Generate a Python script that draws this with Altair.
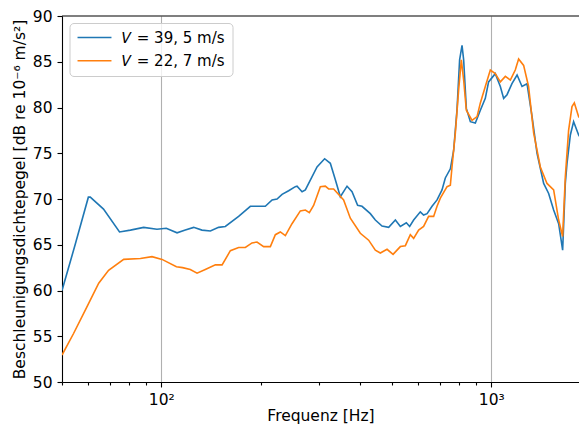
import altair as alt
import pandas as pd

label_a = "𝑉 = 39, 5 m/s"
label_b = "𝑉 = 22, 7 m/s"

freq_a = [50, 54.9, 60.1, 60.9, 66.8, 74.7, 80.6, 88.4, 97.0, 103.5, 111.6, 118.2, 125.3, 132.8,
          140.8, 149.1, 156.3, 171.5, 186.1, 206.6, 216.6, 224.2, 232.2, 243.1, 254.7, 257.8,
          267.0, 273.2, 296.4, 312.5, 325.2, 336.8, 348.7, 365.4, 378.4, 393.4, 405.7, 429.9,
          445.2, 466.5, 488.6, 512.0, 530.1, 552.7, 565.6, 581.6, 609.3, 623.5, 638.8, 661.3,
          684.8, 709.0, 725.5, 751.4, 768.9, 787.3, 801.6, 815.2, 824.5, 840.1, 864.0, 894.5,
          926.4, 959.0, 981.3, 1028, 1065, 1090, 1116, 1155, 1197, 1239, 1283, 1329, 1376,
          1441, 1492, 1545, 1600, 1645, 1676, 1696, 1736, 1776, 1839, 1884, 1950, 2000]
level_a = [60.0, 65.1, 70.2, 70.2, 68.9, 66.4, 66.6, 66.9, 66.7, 66.8, 66.3, 66.6, 66.9, 66.6,
           66.5, 66.9, 67.0, 68.1, 69.2, 69.2, 69.9, 70.0, 70.5, 70.9, 71.35, 71.4,
           70.8, 71.0, 73.5, 74.4, 73.9, 72.1, 70.25, 71.4, 70.8, 69.3, 69.2, 68.4,
           67.7, 67.05, 66.9, 67.7, 67.0, 67.4, 67.0, 67.7, 68.6, 68.25, 68.4, 69.2,
           69.9, 71.0, 72.3, 73.3, 75.3, 79.8, 85.2, 86.8, 85.2, 79.9, 78.45, 78.3,
           79.7, 81.0, 82.8, 83.7, 82.3, 81.0, 81.4, 82.6, 83.55, 82.3, 82.6, 79.0, 75.0,
           71.7, 70.6, 68.8, 67.3, 64.4, 71.7, 73.9, 77.0, 78.45, 77.0, 76.45, 76.1, 76.0]

freq_b = [50, 54.2, 59.5, 64.6, 69.2, 76.9, 86.4, 93.7, 100.5, 111.1, 116, 122.4, 128.3, 135.9,
          145.8, 152.8, 161.9, 171.5, 179.7, 188.3, 195.0, 204.2, 214.0, 221.6, 229.4, 237.6,
          248.9, 263.8, 273.2, 280.9, 289.4, 303.3, 314.0, 321.4, 332.8, 356.8, 373.9, 400.9,
          424.9, 445.2, 461.0, 483.1, 503.8, 530.1, 548.9, 568.3, 581.6, 602.2, 623.5, 645.7,
          668.7, 684.8, 700.7, 734.3, 751.4, 760.2, 778.0, 796.1, 811.3, 824.5, 840.1, 874.2,
          905.3, 926.4, 959.0, 993.1, 1028, 1065, 1103, 1142, 1182, 1210, 1253, 1297, 1344,
          1408, 1475, 1545, 1600, 1645, 1676, 1715, 1756, 1785, 1839, 1905, 1950, 2000]
level_b = [52.95, 55.3, 58.2, 60.8, 62.2, 63.4, 63.5, 63.7, 63.4, 62.6, 62.5, 62.3, 61.9, 62.3,
           62.8, 62.8, 64.35, 64.7, 64.7, 65.2, 65.3, 64.8, 64.8, 66.1, 66.4, 66.0,
           67.3, 68.7, 68.8, 68.5, 69.3, 71.35, 71.4, 71.1, 71.1, 69.9, 67.9, 66.25,
           65.5, 64.4, 64.1, 64.5, 63.95, 64.8, 64.9, 66.1, 65.7, 66.6, 67.0, 68.1,
           68.1, 69.2, 70.1, 71.35, 71.5, 73.5, 77.2, 81.9, 85.2, 83.0, 79.7, 78.6,
           79.0, 80.5, 82.3, 84.1, 83.7, 82.8, 83.4, 83.0, 84.1, 85.3, 84.6, 82.3, 77.2,
           73.5, 71.7, 71.0, 67.7, 65.9, 72.4, 77.5, 80.1, 80.5, 79.0, 78.45, 77.7, 77.5]

x_domain = [50, 1844]
x_ticks = [50, 60, 70, 80, 90, 100, 200, 300, 400, 500, 600, 700, 800, 900, 1000]
y_ticks = [50, 55, 60, 65, 70, 75, 80, 85, 90]

df = pd.concat([
    pd.DataFrame({"f": freq_a, "L": level_a, "s": label_a, "o": 0}),
    pd.DataFrame({"f": freq_b, "L": level_b, "s": label_b, "o": 1}),
])

FONT = "DejaVu Sans"
FS = 15.5
W, H = 517, 366
major = "datum.value == 100 || datum.value == 1000"

lines = alt.Chart(df).mark_line(clip=True, strokeWidth=1.6).encode(
    x=alt.X("f:Q", scale=alt.Scale(type="log", domain=x_domain, nice=False),
            axis=alt.Axis(values=x_ticks, title="Frequenz [Hz]",
                          labelExpr="datum.value == 100 ? '10²' : (datum.value == 1000 ? '10³' : '')",
                          grid=True, gridColor="#b0b0b0", gridWidth=1.1,
                          gridOpacity=alt.condition(major, alt.value(1), alt.value(0)),
                          tickSize=alt.condition(major, alt.value(5), alt.value(3)),
                          labelPadding=5, titlePadding=1, labelFlush=False)),
    y=alt.Y("L:Q", scale=alt.Scale(domain=[50, 90], nice=False),
            axis=alt.Axis(values=y_ticks, title="Beschleunigungsdichtepegel [dB re 10⁻⁶ m/s²]",
                          grid=False, tickSize=5, labelPadding=5, titlePadding=5)),
    color=alt.Color("s:N", scale=alt.Scale(domain=[label_a, label_b], range=["#1f77b4", "#ff7f0e"]),
                    legend=alt.Legend(title=None, orient="none", legendX=7.5, legendY=7,
                                      symbolType="M-3,0H3", symbolSize=128, symbolStrokeWidth=1.6,
                                      symbolOffset=10.5,
                                      labelFontSize=15, labelFont=FONT, labelOffset=20,
                                      fillColor="rgba(255,255,255,0.8)", strokeColor="#cccccc",
                                      cornerRadius=4, padding=7, rowPadding=7.2)),
    order="o:Q",
)

top_spine = alt.Chart(pd.DataFrame({"k": [0]})).mark_rule(color="black", strokeWidth=1.1).encode(
    x=alt.value(0), x2=alt.value(W), y=alt.value(0)
)

chart = alt.layer(lines, top_spine).properties(
    width=W, height=H,
    autosize=alt.AutoSizeParams(type="none"),
    padding={"left": 54, "top": 8, "right": 0, "bottom": 42},
)

chart = chart.configure_view(stroke=None).configure_axis(
    labelFont=FONT, titleFont=FONT, labelFontSize=FS, titleFontSize=FS,
    titleFontWeight="normal", labelColor="black", titleColor="black",
    domainColor="black", tickColor="black", domainWidth=1.1, tickWidth=1.1,
)

chart.save("out.html", embed_options={"renderer": "svg", "actions": False})
